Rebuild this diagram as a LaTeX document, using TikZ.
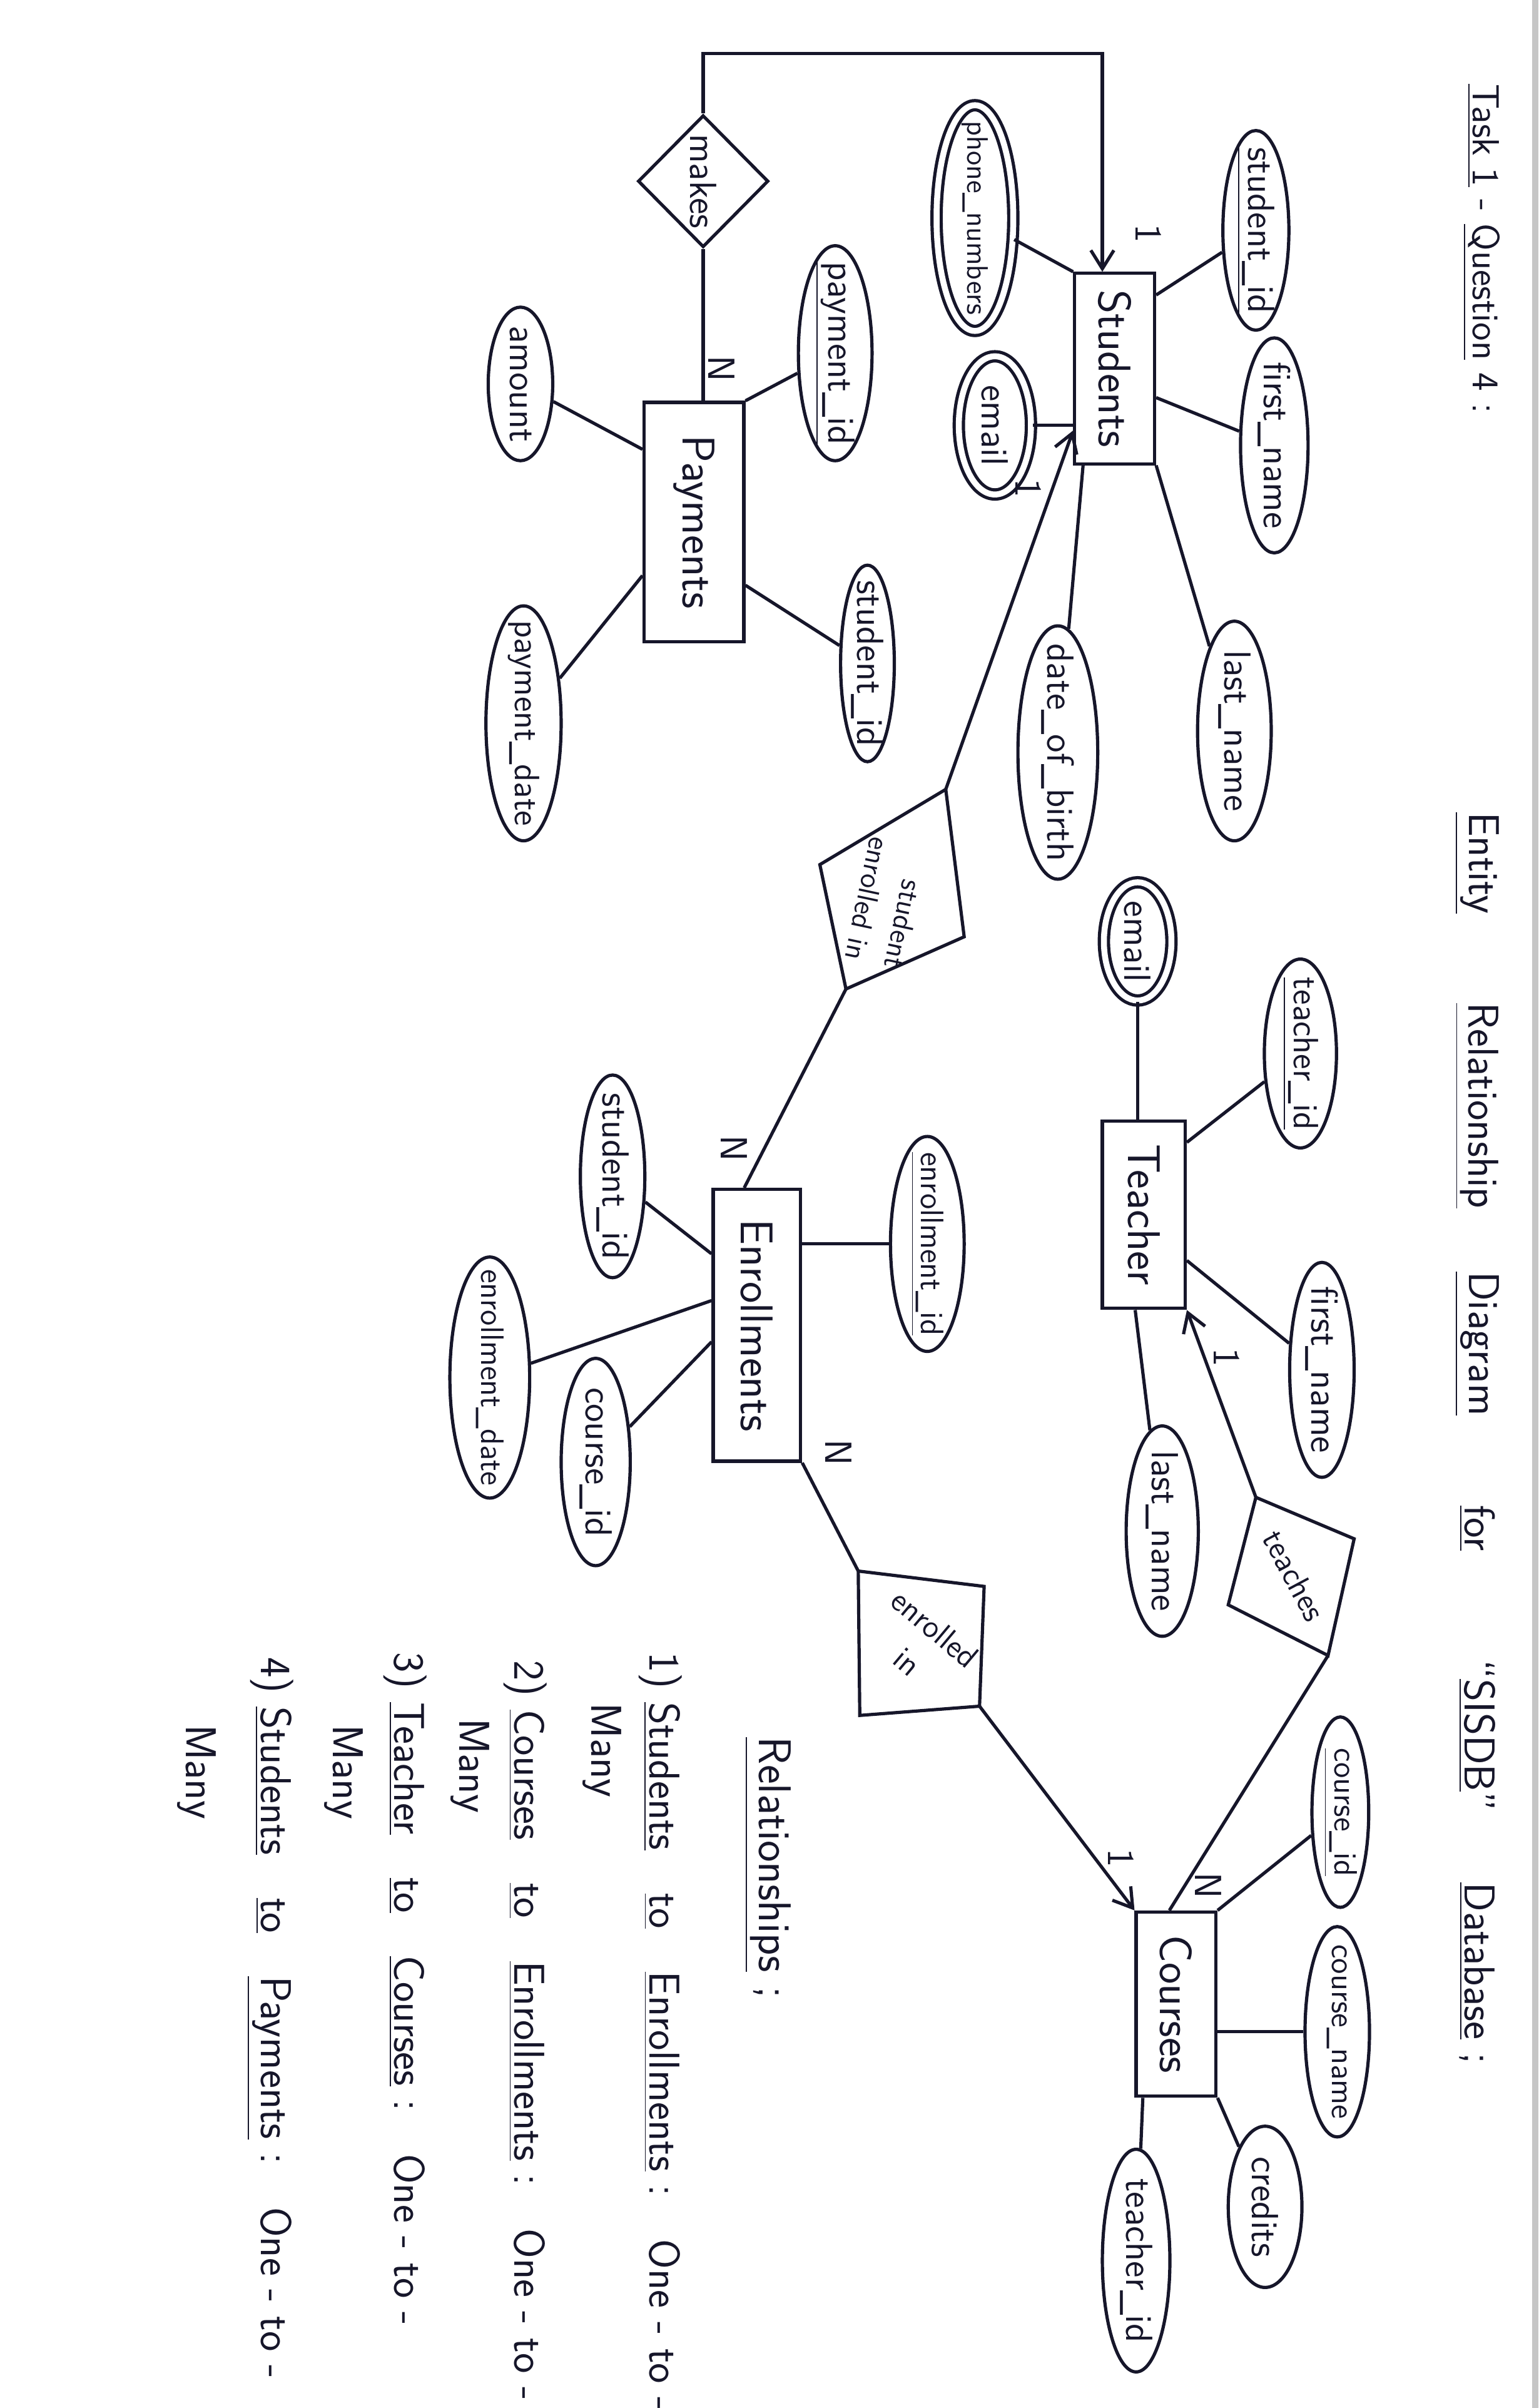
\documentclass[tikz,border=0pt]{standalone}
\usepackage{graphicx}
\usepackage{tikz}
\usetikzlibrary{shapes.geometric,arrows.meta,calc}
\definecolor{ink}{RGB}{22,22,42}
\tikzset{
  entity/.style 2 args={draw, minimum width=#1, minimum height=#2, inner sep=0pt, font=\sffamily\fontsize{17}{19}\selectfont},
  attr/.style 2 args={draw, ellipse, minimum width=#1, minimum height=#2, inner sep=0pt},
  multi/.style={double, double distance=2.2pt},
  txt/.style={rotate=-90, inner sep=0pt, font=\sffamily\fontsize{14}{16}\selectfont},
  smalltxt/.style={txt, font=\sffamily\fontsize{12}{14}\selectfont},
  titletxt/.style={txt, font=\sffamily\fontsize{16}{18}\selectfont},
  reltxt/.style={txt, anchor=west, font=\sffamily\fontsize{16}{19}\selectfont},
  card/.style={txt, font=\sffamily\fontsize{14}{16}\selectfont},
  onearrow/.style={-{Straight Barb[length=2.4mm,width=3mm]}},
}
\begin{document}
\begin{tikzpicture}[x=0.02cm, y=-0.02cm, line width=1.2pt, color=ink]
	\useasboundingbox (0,0) rectangle (1002,1568);
	%page edge
	\fill[gray!45] (998,0) rectangle (1002,1568);
	%title
	\node[txt] (task) at (965,162) {\underline{Task 1} - \underline{Question} 4 :};
	\node[titletxt] (ttl-a) at (962,562) {\underline{Entity}};
	\node[titletxt] (ttl-b) at (962,720) {\underline{Relationship}};
	\node[titletxt] (ttl-c) at (962,875) {\underline{Diagram}};
	\node[titletxt] (ttl-d) at (962,995) {\underline{for}};
	\node[titletxt] (ttl-e) at (962,1130) {“\underline{SISDB}”};
	\node[titletxt] (ttl-f) at (962,1285) {\underline{Database} ;};
	%entities
	\node[entity={1.04cm}{2.48cm}] (stu) at (726,240) {\rotatebox{-90}{Students}};
	\node[entity={1.3cm}{3.12cm}] (pay) at (452,340) {\rotatebox{-90}{Payments}};
	\node[entity={1.08cm}{2.44cm}] (tea) at (745,791) {\rotatebox{-90}{Teacher}};
	\node[entity={1.14cm}{3.54cm}] (enr) at (493,863) {\rotatebox{-90}{Enrollments}};
	\node[entity={1.04cm}{2.4cm}] (crs) at (766,1305) {\rotatebox{-90}{Courses}};
	%students attributes
	\node[attr={0.86cm}{2.6cm}] (sid) at (818,150) {};
	\node[txt] (sid-t) at (sid) {\underline{student\_id}};
	\node[attr={0.88cm}{2.8cm}] (fn) at (830,290) {};
	\node[txt] (fn-t) at (fn) {first\_name};
	\node[attr={0.96cm}{2.86cm}] (ln) at (804,476) {};
	\node[txt] (ln-t) at (ln) {last\_name};
	\node[attr={1.04cm}{3.3cm}] (dob) at (689,490) {};
	\node[txt] (dob-t) at (dob) {date\_of\_birth};
	\node[attr={0.94cm}{1.8cm}, multi] (em) at (648,277) {};
	\node[txt] (em-t) at (em) {email};
	\node[attr={1cm}{2.94cm}, multi] (ph) at (635,142) {};
	\node[txt, font=\sffamily\fontsize{11}{13}\selectfont] (ph-t) at (ph) {phone\_numbers};
	%payments attributes
	\node[attr={0.96cm}{2.8cm}] (pid) at (544,230) {};
	\node[txt] (pid-t) at (pid) {\underline{payment\_id}};
	\node[attr={0.84cm}{2cm}] (amt) at (339,250) {};
	\node[txt] (amt-t) at (amt) {amount};
	\node[attr={0.7cm}{2.56cm}] (psid) at (565,432) {};
	\node[txt] (psid-t) at (psid) {student\_id};
	\node[attr={0.98cm}{3.06cm}] (pdate) at (341,471) {};
	\node[txt, font=\sffamily\fontsize{13}{15}\selectfont] (pdate-t) at (pdate) {payment\_date};
	%teacher attributes
	\node[attr={0.88cm}{1.54cm}, multi] (tem) at (741,613) {};
	\node[txt] (tem-t) at (tem) {email};
	\node[attr={0.94cm}{2.46cm}] (tid) at (847,686) {};
	\node[txt, font=\sffamily\fontsize{13}{15}\selectfont] (tid-t) at (tid) {\underline{teacher\_id}};
	\node[attr={0.84cm}{2.8cm}] (tfn) at (861,892) {};
	\node[txt] (tfn-t) at (tfn) {first\_name};
	\node[attr={0.94cm}{2.74cm}] (tln) at (757,997) {};
	\node[txt] (tln-t) at (tln) {last\_name};
	%enrollments attributes
	\node[attr={0.96cm}{2.8cm}] (eid) at (604,810) {};
	\node[smalltxt] (eid-t) at (eid) {\underline{enrollment\_id}};
	\node[attr={0.84cm}{2.64cm}] (esid) at (399,766) {};
	\node[txt] (esid-t) at (esid) {student\_id};
	\node[attr={1.04cm}{3.14cm}] (edate) at (319,897) {};
	\node[smalltxt] (edate-t) at (edate) {enrollment\_date};
	\node[attr={0.9cm}{2.7cm}] (ecid) at (388,952) {};
	\node[txt] (ecid-t) at (ecid) {course\_id};
	%courses attributes
	\node[attr={0.74cm}{2.48cm}] (ccid) at (873,1180) {};
	\node[smalltxt] (ccid-t) at (ccid) {\underline{course\_id}};
	\node[attr={0.84cm}{2.74cm}] (cname) at (871,1323) {};
	\node[smalltxt] (cname-t) at (cname) {course\_name};
	\node[attr={0.96cm}{2.1cm}] (cred) at (824,1437) {};
	\node[txt] (cred-t) at (cred) {credits};
	\node[attr={0.88cm}{2.9cm}] (ctid) at (740,1472) {};
	\node[txt] (ctid-t) at (ctid) {teacher\_id};
	%relationships
	\node[draw, diamond, minimum width=1.7cm, minimum height=1.72cm, inner sep=0pt] (mk) at (458,118) {};
	\node[txt] (mk-t) at (mk) {makes};
	\coordinate (se-a) at (616,514);
	\coordinate (se-b) at (628,610);
	\coordinate (se-c) at (551,644);
	\coordinate (se-d) at (534,563);
	\draw (se-a) -- (se-b) -- (se-c) -- (se-d) -- cycle;
	\node[smalltxt, font=\sffamily\fontsize{11}{15}\selectfont, rotate=-12, align=right] (se-t) at (578,588) {student\\enrolled in};
	\coordinate (ei-a) at (559,1023);
	\coordinate (ei-b) at (641,1033);
	\coordinate (ei-c) at (638,1111);
	\coordinate (ei-d) at (560,1117);
	\draw (ei-a) -- (ei-b) -- (ei-c) -- (ei-d) -- cycle;
	\node[smalltxt, rotate=50, align=center, font=\sffamily\fontsize{12}{16}\selectfont] (ei-t) at (600,1071) {enrolled\\in};
	\coordinate (tc-a) at (818,975);
	\coordinate (tc-b) at (882,1002);
	\coordinate (tc-c) at (865,1078);
	\coordinate (tc-d) at (800,1045);
	\draw (tc-a) -- (tc-b) -- (tc-c) -- (tc-d) -- cycle;
	\node[smalltxt, rotate=28] (tc-t) at (843,1026) {teaches};
	%students lines
	\draw ($(stu.north east)!0.12!(stu.south east)$) -- (sid);
	\draw ($(stu.north east)!0.65!(stu.south east)$) -- (fn);
	\draw (stu.south east) -- (ln);
	\draw ($(stu.south west)!0.12!(stu.south east)$) -- (dob);
	\draw (em.east) -- (em.east -| stu.west);
	\draw (ph) -- (stu.north west);
	%makes loop
	\coordinate (lp-a) at (458,35);
	\coordinate (lp-b) at (718,35);
	\draw[onearrow] (mk.north) -- (lp-a) -- (lp-b) -- (lp-b |- stu.north);
	\draw (mk.south) -- (mk.south |- pay.north);
	%payments lines
	\draw (pay.north east) -- (pid);
	\draw (amt) -- ($(pay.north west)!0.2!(pay.south west)$);
	\draw ($(pay.north east)!0.76!(pay.south east)$) -- (psid);
	\draw ($(pay.north west)!0.72!(pay.south west)$) -- (pdate);
	%student enrolled in lines
	\draw[onearrow] (se-a) -- ($(stu.north west)!0.82!(stu.south west)$);
	\draw (se-c) -- ($(enr.north west)!0.36!(enr.north east)$);
	%teacher lines
	\draw (tem) -- (tem |- tea.north);
	\draw ($(tea.north east)!0.12!(tea.south east)$) -- (tid);
	\draw ($(tea.north east)!0.74!(tea.south east)$) -- (tfn);
	\draw ($(tea.south west)!0.4!(tea.south east)$) -- (tln);
	\draw[onearrow] (tc-a) -- (tea.south east);
	\draw (tc-c) -- ($(crs.north west)!0.42!(crs.north east)$);
	%enrollments lines
	\draw (eid.west -| enr.east) -- (eid.west);
	\draw ($(enr.north west)!0.24!(enr.south west)$) -- (esid);
	\draw ($(enr.north west)!0.41!(enr.south west)$) -- (edate);
	\draw ($(enr.north west)!0.56!(enr.south west)$) -- (ecid);
	\draw (enr.south east) -- (ei-a);
	\draw[onearrow] (ei-c) -- (crs.north west);
	%courses lines
	\draw (crs.north east) -- (ccid);
	\draw (cname.west -| crs.east) -- (cname.west);
	\draw (crs.south east) -- (cred);
	\draw ($(crs.south west)!0.1!(crs.south east)$) -- (ctid);
	%cardinality
	\node[card] (c1) at (748,152) {1};
	\node[card] (c2) at (470,240) {N};
	\node[card] (c3) at (670,318) {1};
	\node[card] (c4) at (478,748) {N};
	\node[card] (c5) at (546,946) {N};
	\node[card] (c6) at (730,1210) {1};
	\node[card] (c7) at (787,1228) {N};
	\node[card] (c8) at (799,884) {1};
	%relationship list
	\node[reltxt, font=\sffamily\fontsize{17}{20}\selectfont] (r0) at (500,1130) {\underline{Relationships} ;};
	\node[reltxt] (r1) at (430,1075) {1)~\underline{Students}\quad\underline{to}\quad\underline{Enrollments} :\quad One - to -};
	\node[reltxt] (r1m) at (392,1108) {Many};
	\node[reltxt] (r2) at (342,1080) {2)~\underline{Courses}\quad\underline{to}\quad\underline{Enrollments} :\quad One - to -};
	\node[reltxt] (r2m) at (306,1118) {Many};
	\node[reltxt] (r3) at (264,1075) {3)~\underline{Teacher}\quad\underline{to}\quad\underline{Courses} :\quad One - to -};
	\node[reltxt] (r3m) at (224,1122) {Many};
	\node[reltxt] (r4) at (176,1078) {4)~\underline{Students}\quad\underline{to}\quad\underline{Payments} :\quad One - to -};
	\node[reltxt] (r4m) at (128,1122) {Many};
\end{tikzpicture}
\end{document}
